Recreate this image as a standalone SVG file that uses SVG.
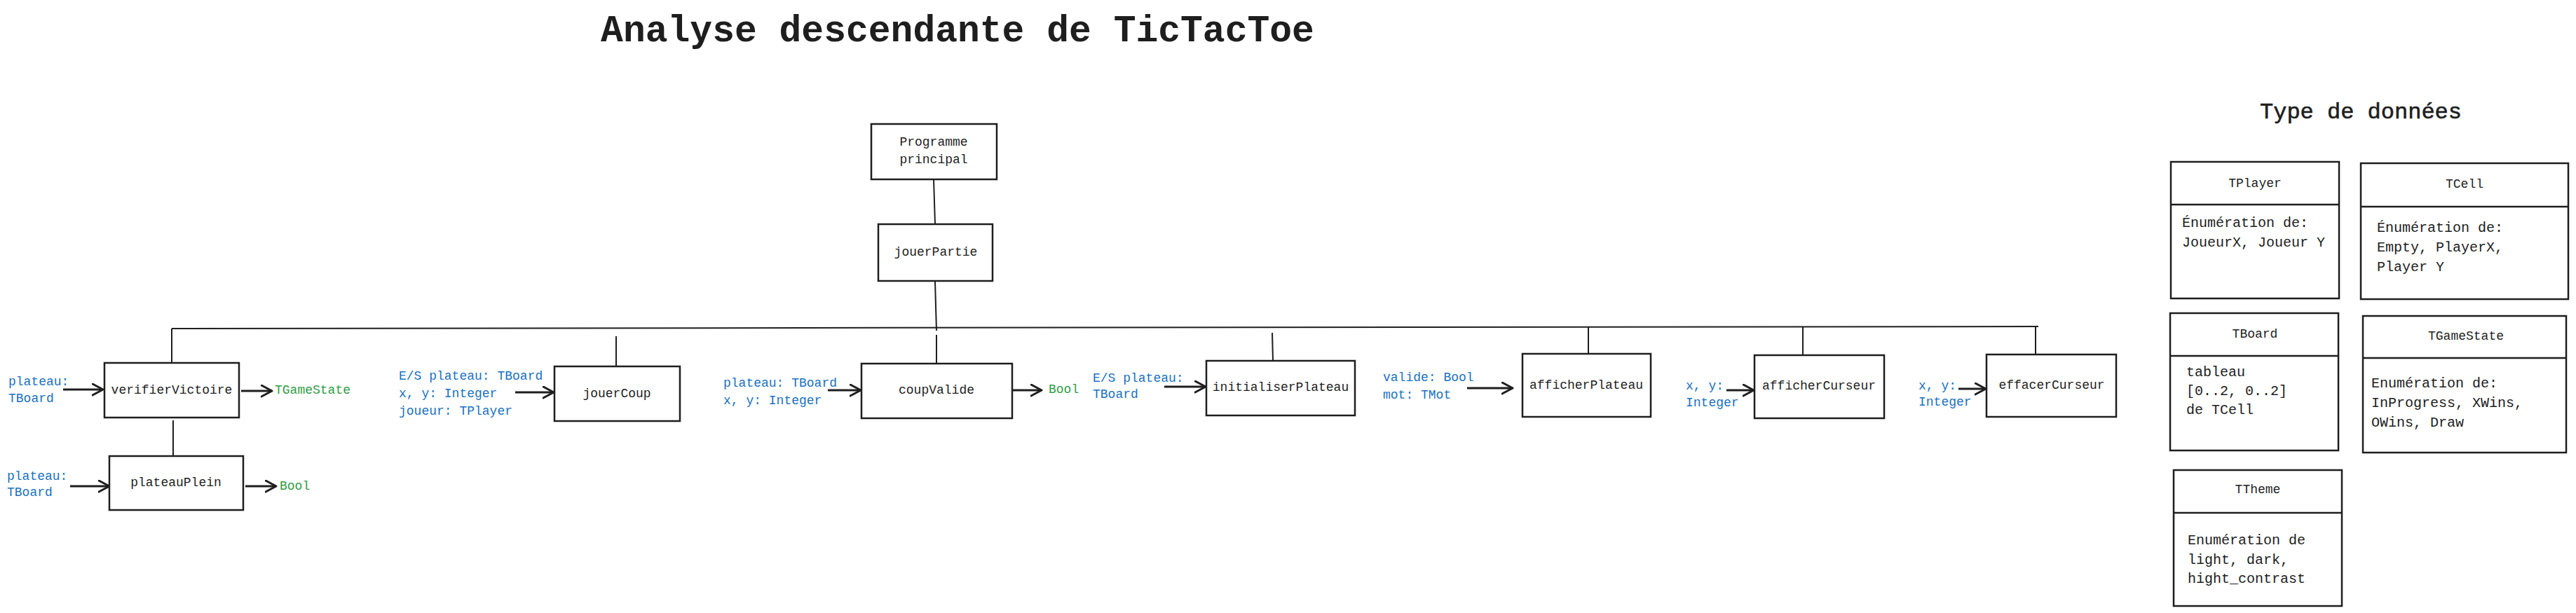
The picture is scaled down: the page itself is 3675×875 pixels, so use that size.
<svg xmlns="http://www.w3.org/2000/svg" width="3675" height="875" viewBox="0 0 3675 875">
<style>
text{font-family:"Liberation Mono","DejaVu Sans Mono",monospace;fill:#1e1e1e;dominant-baseline:central}
.box{fill:#fff;stroke:#1e1e1e;stroke-width:2.5}
.node{font-size:18px;text-anchor:middle}
.in{font-size:18px;fill:#1971c2}
.out{font-size:18px;fill:#2f9e44}
.tree{stroke:#1e1e1e;stroke-width:2;fill:none}
.arr{stroke:#1e1e1e;stroke-width:3;fill:none;marker-end:url(#ah)}
.th{font-size:18px;text-anchor:middle}
.tb{font-size:20px}
.title{font-size:53px;text-anchor:middle;font-weight:bold}
.sub{font-size:32px;text-anchor:middle;stroke:#1e1e1e;stroke-width:0.6}
</style>
<defs>
<marker id="ah" markerUnits="userSpaceOnUse" markerWidth="22" markerHeight="22" refX="16" refY="9" orient="auto">
<path d="M1,1 L16,9 L1,17" fill="none" stroke="#1e1e1e" stroke-width="3" stroke-linecap="round" stroke-linejoin="round"/>
</marker>
</defs>
<rect width="3675" height="875" fill="#fff"/>
<text class="title" x="1366" y="45">Analyse descendante de TicTacToe</text>
<text class="sub" x="3368" y="160">Type de données</text>

<g id="connectors">
<path class="tree" d="M1332,256 L1334,320"/>
<path class="tree" d="M1334,402 L1336,472"/>
<path class="tree" d="M245,469 L2908,466"/>
<path class="tree" d="M245,469 L245,518"/>
<path class="tree" d="M247,600 L247,651"/>
<path class="tree" d="M879,480 L879,523"/>
<path class="tree" d="M1336,478 L1336,519"/>
<path class="tree" d="M1815,475 L1816,515"/>
<path class="tree" d="M2266,466 L2266,505"/>
<path class="tree" d="M2572,467 L2572,507"/>
<path class="tree" d="M2904,466 L2904,506"/>
<path class="arr" d="M90,556 L147,556"/>
<path class="arr" d="M344,558 L388,558"/>
<path class="arr" d="M100,694 L156,694"/>
<path class="arr" d="M350,694 L394,694"/>
<path class="arr" d="M735,560 L790,560"/>
<path class="arr" d="M1181,557 L1228,557"/>
<path class="arr" d="M1445,557 L1486,557"/>
<path class="arr" d="M1661,552 L1720,552"/>
<path class="arr" d="M2093,554 L2158,554"/>
<path class="arr" d="M2463,557 L2502,557"/>
<path class="arr" d="M2794,555 L2833,555"/>
</g>

<g id="programmePrincipal">
<rect class="box" x="1243" y="177" width="179" height="79"/>
<text class="node" x="1332" y="203">Programme</text>
<text class="node" x="1332" y="228">principal</text>
</g>
<g id="jouerPartie">
<rect class="box" x="1253" y="320" width="163" height="81"/>
<text class="node" x="1335" y="360">jouerPartie</text>
</g>
<g id="verifierVictoire">
<rect class="box" x="149" y="518" width="192" height="78"/>
<text class="node" x="245" y="557">verifierVictoire</text>
<text class="in" x="12" y="545">plateau:</text>
<text class="in" x="12" y="569">TBoard</text>
<text class="out" x="392" y="557">TGameState</text>
</g>
<g id="plateauPlein">
<rect class="box" x="156" y="651" width="191" height="77"/>
<text class="node" x="251" y="689">plateauPlein</text>
<text class="in" x="10" y="680">plateau:</text>
<text class="in" x="10" y="703">TBoard</text>
<text class="out" x="399" y="694">Bool</text>
</g>
<g id="jouerCoup">
<rect class="box" x="791" y="523" width="179" height="78"/>
<text class="node" x="880" y="562">jouerCoup</text>
<text class="in" x="569" y="537">E/S plateau: TBoard</text>
<text class="in" x="569" y="562">x, y: Integer</text>
<text class="in" x="569" y="587">joueur: TPlayer</text>
</g>
<g id="coupValide">
<rect class="box" x="1229" y="519" width="215" height="78"/>
<text class="node" x="1336" y="557">coupValide</text>
<text class="in" x="1032" y="547">plateau: TBoard</text>
<text class="in" x="1032" y="572">x, y: Integer</text>
<text class="out" x="1496" y="556">Bool</text>
</g>
<g id="initialiserPlateau">
<rect class="box" x="1721" y="515" width="212" height="78"/>
<text class="node" x="1827" y="553">initialiserPlateau</text>
<text class="in" x="1559" y="540">E/S plateau:</text>
<text class="in" x="1559" y="563">TBoard</text>
</g>
<g id="afficherPlateau">
<rect class="box" x="2172" y="505" width="183" height="90"/>
<text class="node" x="2263" y="550">afficherPlateau</text>
<text class="in" x="1973" y="539">valide: Bool</text>
<text class="in" x="1973" y="564">mot: TMot</text>
</g>
<g id="afficherCurseur">
<rect class="box" x="2503" y="507" width="185" height="90"/>
<text class="node" x="2595" y="551">afficherCurseur</text>
<text class="in" x="2405" y="551">x, y:</text>
<text class="in" x="2405" y="575">Integer</text>
</g>
<g id="effacerCurseur">
<rect class="box" x="2834" y="506" width="185" height="89"/>
<text class="node" x="2927" y="550">effacerCurseur</text>
<text class="in" x="2737" y="551">x, y:</text>
<text class="in" x="2737" y="574">Integer</text>
</g>

<g id="TPlayer">
<rect class="box" x="3097" y="231" width="240" height="195"/>
<line class="tree" x1="3097" y1="292" x2="3337" y2="292" style="stroke-width:2.5"/>
<text class="th" x="3217" y="262">TPlayer</text>
<text class="tb" x="3113" y="318">Énumération de:</text>
<text class="tb" x="3113" y="346">JoueurX, Joueur Y</text>
</g>
<g id="TCell">
<rect class="box" x="3368" y="233" width="296" height="194"/>
<line class="tree" x1="3368" y1="295" x2="3664" y2="295" style="stroke-width:2.5"/>
<text class="th" x="3516" y="263">TCell</text>
<text class="tb" x="3391" y="325">Énumération de:</text>
<text class="tb" x="3391" y="353">Empty, PlayerX,</text>
<text class="tb" x="3391" y="381">Player Y</text>
</g>
<g id="TBoard">
<rect class="box" x="3096" y="447" width="240" height="196"/>
<line class="tree" x1="3096" y1="508" x2="3336" y2="508" style="stroke-width:2.5"/>
<text class="th" x="3217" y="477">TBoard</text>
<text class="tb" x="3119" y="531">tableau</text>
<text class="tb" x="3119" y="558">[0..2, 0..2]</text>
<text class="tb" x="3119" y="585">de TCell</text>
</g>
<g id="TGameState">
<rect class="box" x="3371" y="451" width="290" height="195"/>
<line class="tree" x1="3371" y1="511" x2="3661" y2="511" style="stroke-width:2.5"/>
<text class="th" x="3518" y="480">TGameState</text>
<text class="tb" x="3383" y="547">Enumération de:</text>
<text class="tb" x="3383" y="575">InProgress, XWins,</text>
<text class="tb" x="3383" y="603">OWins, Draw</text>
</g>
<g id="TTheme">
<rect class="box" x="3101" y="671" width="240" height="194"/>
<line class="tree" x1="3101" y1="732" x2="3341" y2="732" style="stroke-width:2.5"/>
<text class="th" x="3221" y="699">TTheme</text>
<text class="tb" x="3121" y="771">Enumération de</text>
<text class="tb" x="3121" y="799">light, dark,</text>
<text class="tb" x="3121" y="826">hight_contrast</text>
</g>
</svg>
